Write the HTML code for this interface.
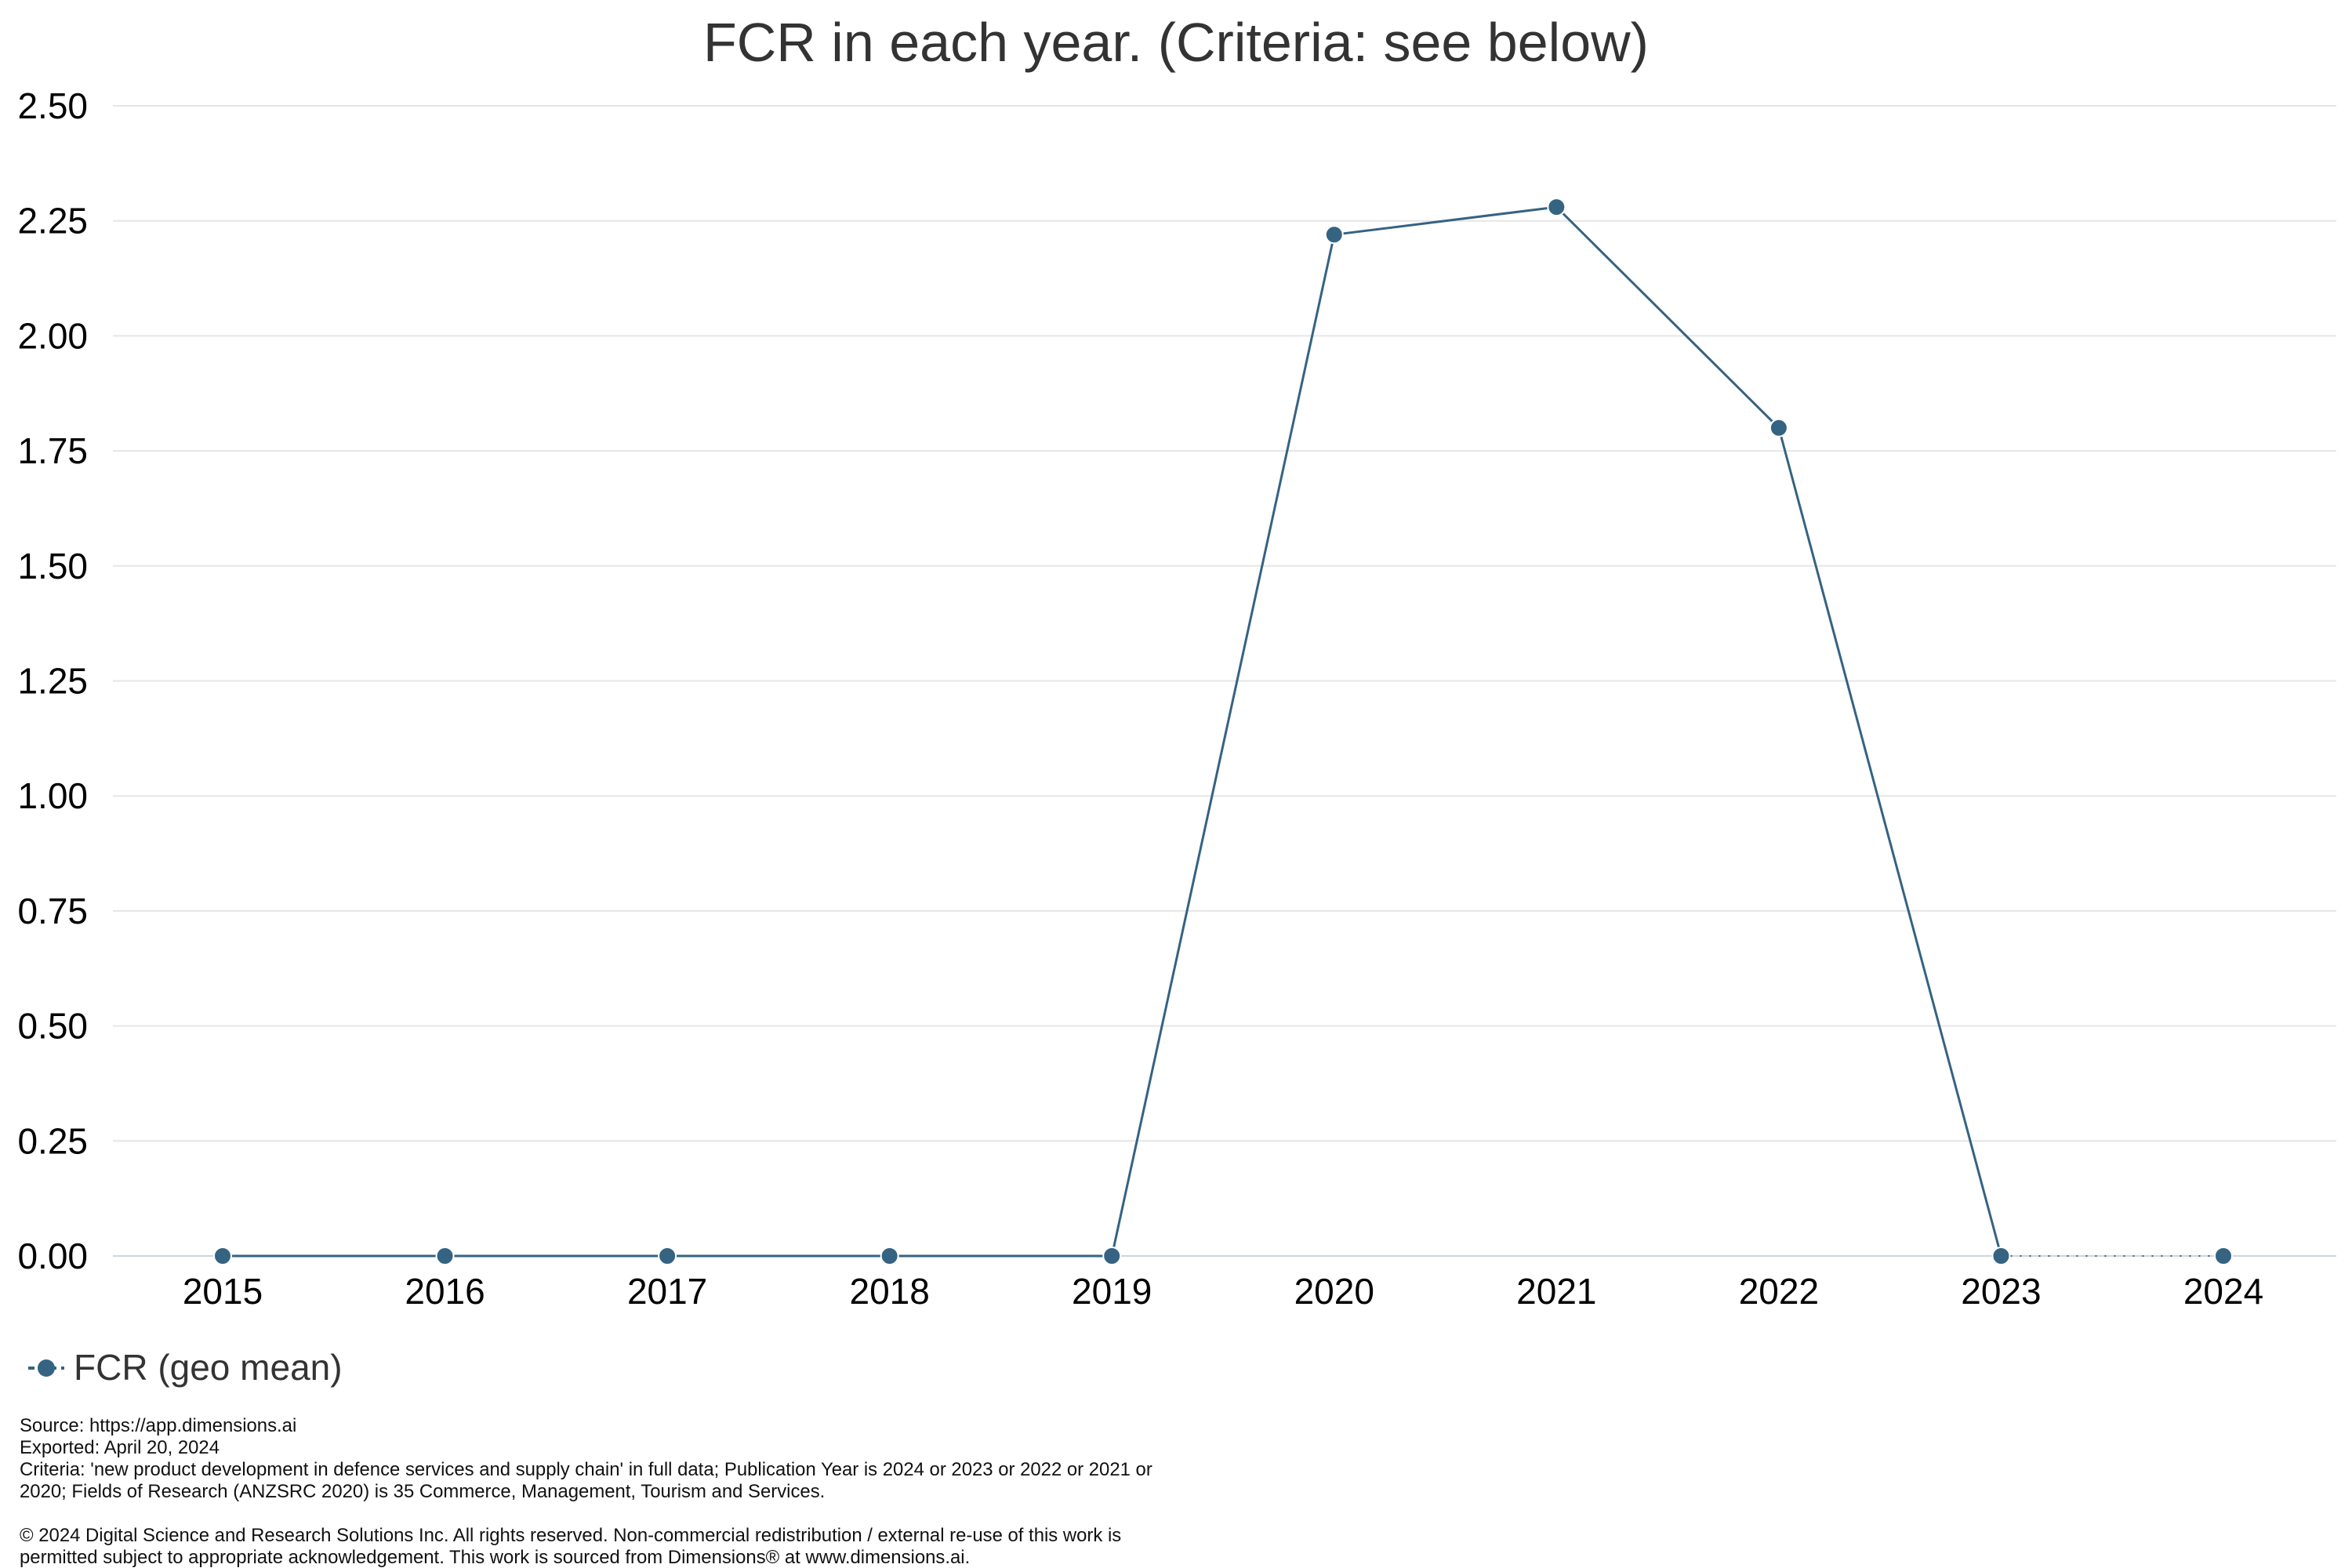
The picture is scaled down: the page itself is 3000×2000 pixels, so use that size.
<!DOCTYPE html>
<html><head><meta charset="utf-8"><style>
html,body{margin:0;padding:0;background:#fff;}
svg{display:block;font-family:"Liberation Sans",sans-serif;}
</style></head><body>
<svg id="chart" width="3000" height="2000" viewBox="0 0 3000 2000" xmlns="http://www.w3.org/2000/svg">
<text x="1500" y="78" text-anchor="middle" font-size="70" fill="#333">FCR in each year. (Criteria: see below)</text>
<g id="grid"></g>
<g id="yticks"></g>
<g id="xticks"></g>
<g id="series"></g>
<g>
<line x1="36" y1="1745" x2="82" y2="1745" stroke="#356382" stroke-width="4" stroke-dasharray="8,6"/>
<circle cx="59" cy="1745" r="11" fill="#356382"/>
<text x="94" y="1760" font-size="46" fill="#333">FCR (geo mean)</text>
</g>
<g font-size="23.9" fill="#111">
<text x="25" y="1826">Source: https://app.dimensions.ai</text>
<text x="25" y="1854">Exported: April 20, 2024</text>
<text x="25" y="1882">Criteria: 'new product development in defence services and supply chain' in full data; Publication Year is 2024 or 2023 or 2022 or 2021 or</text>
<text x="25" y="1910">2020; Fields of Research (ANZSRC 2020) is 35 Commerce, Management, Tourism and Services.</text>
<text x="25" y="1966">© 2024 Digital Science and Research Solutions Inc. All rights reserved. Non-commercial redistribution / external re-use of this work is</text>
<text x="25" y="1994">permitted subject to appropriate acknowledgement. This work is sourced from Dimensions® at www.dimensions.ai.</text>
</g>
</svg>
<script>
const years = ["2015","2016","2017","2018","2019","2020","2021","2022","2023","2024"];
const fcrValues = [0,0,0,0,0,2.22,2.28,1.80,0,0];
const yTickValues = [0,0.25,0.5,0.75,1,1.25,1.5,1.75,2,2.25,2.5];
const yTickLabels = ["0.00","0.25","0.50","0.75","1.00","1.25","1.50","1.75","2.00","2.25","2.50"];

const NS="http://www.w3.org/2000/svg";
const plotL=144,plotR=2980,plotT=135,plotB=1602,yMax=2.5;
const xFirst=284,xLast=2836;
function xs(i){return xFirst+(xLast-xFirst)*i/(years.length-1);}
function ys(v){return plotB-(plotB-plotT)*v/yMax;}
function mk(tag,attrs,parent){const e=document.createElementNS(NS,tag);for(const k in attrs)e.setAttribute(k,attrs[k]);parent.appendChild(e);return e;}

const grid=document.getElementById('grid'),yt=document.getElementById('yticks'),xt=document.getElementById('xticks'),ser=document.getElementById('series');
yTickValues.forEach((v,i)=>{
  const l=mk('line',{x1:plotL,x2:plotR,y1:ys(v),y2:ys(v),stroke:i===0?'#ccd6e0':'#e6e6e6','stroke-width':2},grid);
  
  
  const t=mk('text',{x:112,y:ys(v)+16,'text-anchor':'end','font-size':46,fill:'#000'},yt);
  t.textContent=yTickLabels[i];
  
  
});
years.forEach((y,i)=>{
  const t=mk('text',{x:xs(i),y:1663,'text-anchor':'middle','font-size':46,fill:'#000'},xt);
  t.textContent=y;
  
  
});
for(let i=0;i<fcrValues.length-1;i++){
  const dotted = i===fcrValues.length-2;
  const l=mk('line',{x1:xs(i),y1:ys(fcrValues[i]),x2:xs(i+1),y2:ys(fcrValues[i+1]),stroke:'#356382','stroke-width':dotted?2:3},ser);
  if(dotted) l.setAttribute('stroke-dasharray','2,10');
  
  
}
fcrValues.forEach((v,i)=>{
  const c=mk('circle',{cx:xs(i),cy:ys(v),r:11,fill:'#356382',stroke:'#fff','stroke-width':2},ser);
  
  
});
</script>
</body></html>
